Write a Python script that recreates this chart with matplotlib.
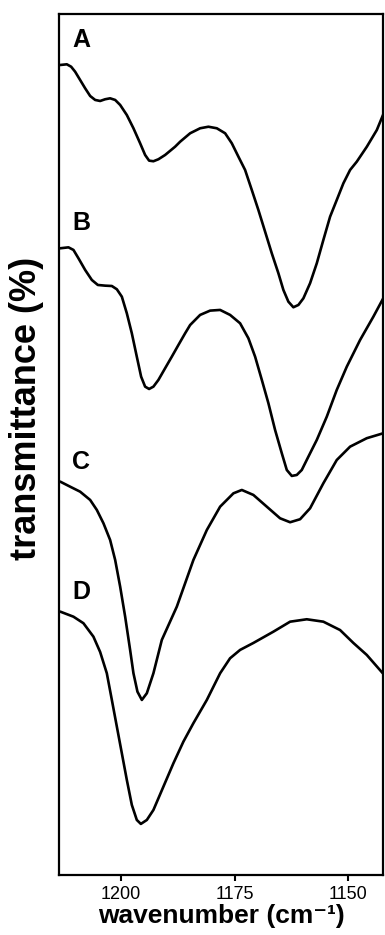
import matplotlib
matplotlib.use("Agg")
import matplotlib.pyplot as plt

plt.rcParams['font.family'] = ['Liberation Sans', 'DejaVu Sans']

# spectrum A (wavenumber, transmittance in arbitrary offset units)
wn_a = [1213.44, 1211.97, 1211.02, 1210.14, 1209.04, 1207.93, 1206.83, 1205.73, 1204.63, 1203.53,
        1202.43, 1201.32, 1200.22, 1198.75, 1197.29, 1195.82, 1194.72, 1193.84, 1192.89, 1191.79,
        1190.31, 1188.11, 1187.00, 1184.80, 1182.60, 1180.77, 1178.92, 1177.09, 1175.62, 1174.16,
        1172.69, 1171.21, 1169.76, 1168.28, 1166.81, 1165.35, 1164.25, 1163.15, 1162.05, 1160.94,
        1159.84, 1158.37, 1156.89, 1155.44, 1153.96, 1152.49, 1151.03, 1149.55, 1148.08, 1145.86,
        1143.66, 1141.85]
tr_a = [94.08, 94.16, 93.88, 93.30, 92.34, 91.37, 90.48, 90.02, 89.90, 90.10,
        90.21, 90.02, 89.44, 88.27, 86.73, 84.99, 83.63, 82.97, 82.90, 83.13,
        83.63, 84.59, 85.17, 86.15, 86.73, 86.91, 86.73, 86.15, 84.99, 83.43,
        81.89, 79.56, 77.24, 74.72, 72.21, 69.89, 67.95, 66.59, 65.94, 66.21,
        66.98, 68.73, 71.05, 73.76, 76.46, 78.40, 80.34, 81.89, 82.85, 84.59,
        86.53, 88.85]

# spectrum B
wn_b = [1213.44, 1211.61, 1210.51, 1209.41, 1207.93, 1206.46, 1205.14, 1203.53, 1202.05, 1200.95,
        1199.85, 1198.75, 1197.65, 1196.55, 1195.60, 1194.72, 1193.84, 1192.89, 1191.79, 1190.31,
        1188.84, 1187.38, 1185.90, 1184.80, 1182.60, 1180.40, 1178.19, 1175.99, 1173.79, 1171.96,
        1170.48, 1169.00, 1167.55, 1166.08, 1164.60, 1163.50, 1162.40, 1161.30, 1160.20, 1158.74,
        1156.89, 1154.69, 1152.49, 1150.28, 1147.35, 1144.42, 1141.85]
tr_b = [72.79, 72.90, 72.60, 71.63, 70.27, 69.11, 68.53, 68.45, 68.41, 68.03,
        67.17, 65.24, 62.92, 60.20, 57.88, 56.72, 56.45, 56.72, 57.50, 58.86,
        60.20, 61.56, 62.92, 63.88, 65.05, 65.55, 65.63, 65.05, 64.08, 62.34,
        60.20, 57.50, 54.79, 51.69, 48.98, 47.04, 46.35, 46.46, 47.04, 48.59,
        50.53, 53.23, 56.34, 59.04, 62.14, 64.85, 67.37]

# spectrum C
wn_c = [1213.44, 1211.24, 1209.04, 1206.83, 1205.36, 1203.90, 1202.43, 1201.32, 1200.22, 1199.12,
        1198.02, 1197.29, 1196.41, 1195.44, 1194.34, 1192.89, 1191.04, 1187.73, 1184.08, 1181.12,
        1178.19, 1175.26, 1173.41, 1170.86, 1167.91, 1164.98, 1162.77, 1160.57, 1158.37, 1155.44,
        1152.49, 1149.55, 1145.88, 1142.22]
tr_c = [45.69, 45.10, 44.52, 43.56, 42.40, 40.85, 38.91, 36.59, 33.49, 30.01,
        26.12, 23.43, 21.29, 20.33, 21.11, 23.43, 27.30, 31.17, 36.59, 40.07,
        42.78, 44.33, 44.72, 44.14, 42.78, 41.43, 40.97, 41.32, 42.59, 45.50,
        48.20, 49.75, 50.73, 51.31]

# spectrum D
wn_d = [1213.44, 1210.51, 1208.31, 1206.11, 1204.63, 1203.16, 1202.05, 1200.95, 1199.85, 1198.75,
        1197.65, 1196.55, 1195.66, 1194.34, 1192.89, 1190.69, 1188.48, 1186.28, 1184.08, 1181.12,
        1178.19, 1176.00, 1173.79, 1170.86, 1166.45, 1162.77, 1159.10, 1155.44, 1151.76, 1148.83,
        1145.88, 1142.35]
tr_d = [30.59, 30.00, 29.24, 27.68, 25.90, 23.43, 20.33, 17.23, 14.14, 11.04,
        8.14, 6.39, 5.93, 6.39, 7.55, 10.26, 12.98, 15.49, 17.63, 20.33,
        23.43, 25.17, 26.14, 26.95, 28.26, 29.42, 29.70, 29.42, 28.45, 26.95,
        25.56, 23.43]

spectra = [(wn_a, tr_a), (wn_b, tr_b), (wn_c, tr_c), (wn_d, tr_d)]
names = ['A', 'B', 'C', 'D']
name_y = [0.970, 0.757, 0.480, 0.329]

xticks = [1200, 1175, 1150]

fig = plt.figure(figsize=(3.85, 9.35), dpi=100)
ax = fig.add_axes([0.1532, 0.0642, 0.8416, 0.9208])

for wn, tr in spectra:
    ax.plot(wn, tr, color='black', lw=1.9, solid_joinstyle='round', solid_capstyle='round')

# curve labels
for name, yy in zip(names, name_y):
    ax.text(0.04, yy, name, transform=ax.transAxes, fontsize=18,
            fontweight='bold', ha='left', va='center')

ax.set_xlim(1213.7, 1142.3)
ax.set_ylim(0, 100)
ax.set_xticks(xticks)
ax.set_xticklabels([str(t) for t in xticks], fontsize=13)
ax.set_yticks([])
ax.tick_params(axis='x', direction='out', length=4, width=1.5, pad=4)
for sp in ax.spines.values():
    sp.set_linewidth(1.6)

ax.set_xlabel('wavenumber (cm\u207b\u00b9)', fontsize=19, fontweight='bold', labelpad=1)
ax.set_ylabel('transmittance (%)', fontsize=26, fontweight='bold')
ax.yaxis.set_label_coords(-0.047, 0.542)

fig.savefig('out.png', dpi=100)
